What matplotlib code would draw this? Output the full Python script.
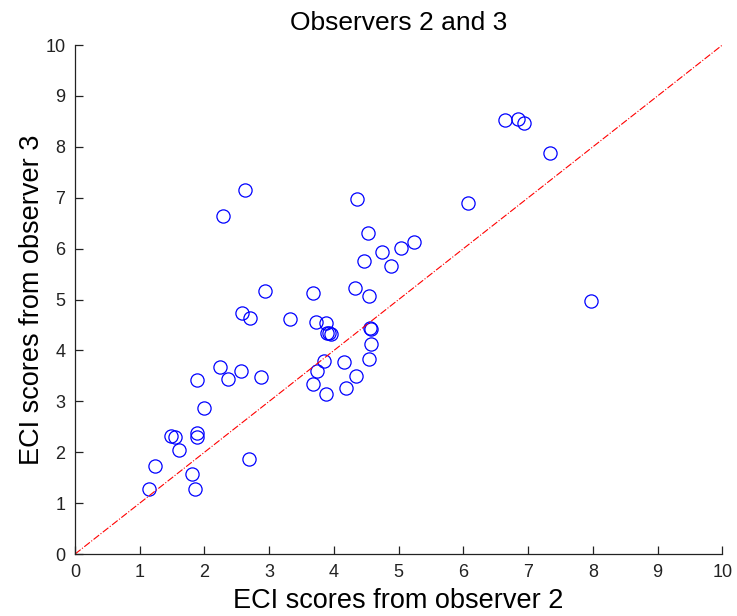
import matplotlib
matplotlib.use("Agg")
import matplotlib.pyplot as plt

# ECI scores given by observer 2 (x) and observer 3 (y) for the same cases
obs2 = [1.14, 1.23, 1.49, 1.55, 1.60, 1.80, 1.85, 1.89, 1.89, 1.89,
        1.99, 2.24, 2.36, 2.29, 2.63, 2.57, 2.58, 2.70, 2.68, 2.88,
        2.94, 3.32, 3.67, 3.72, 3.67, 3.74, 3.85, 3.88, 3.89, 3.92,
        3.96, 3.88, 4.15, 4.18, 4.33, 4.34, 4.36, 4.47, 4.52, 4.54,
        4.56, 4.57, 4.57, 4.54, 4.75, 4.88, 5.03, 5.24, 6.07, 6.64,
        6.85, 6.93, 7.34, 7.97]
obs3 = [1.28, 1.72, 2.31, 2.30, 2.04, 1.57, 1.28, 2.37, 2.29, 3.41,
        2.86, 3.68, 3.44, 6.65, 7.15, 3.59, 4.73, 4.64, 1.87, 3.47,
        5.17, 4.61, 5.13, 4.55, 3.35, 3.60, 3.80, 4.53, 4.34, 4.34,
        4.33, 3.15, 3.77, 3.27, 5.23, 3.50, 6.97, 5.76, 6.31, 5.06,
        4.44, 4.42, 4.12, 3.83, 5.93, 5.66, 6.02, 6.14, 6.89, 8.53,
        8.54, 8.46, 7.88, 4.97]

# identity line endpoints and axis range
identity = [0, 10]
ticks = list(range(0, 11))

plt.rcParams["font.family"] = ["Liberation Sans", "DejaVu Sans"]

fig = plt.figure(figsize=(7.37, 6.16), dpi=100)
ax = fig.add_axes([0.1018, 0.1006, 0.8783, 0.8263])

ax.plot(obs2, obs3, linestyle="none", marker="o", markersize=9.5,
        markerfacecolor="none", markeredgecolor="#0000ff", markeredgewidth=0.9)
ax.plot(identity, identity, color="#ff0000", linestyle="-.", linewidth=0.8)

ax.set_xlim(0, 10)
ax.set_ylim(0, 10)
ax.set_xticks(ticks)
ax.set_yticks(ticks)
ax.tick_params(direction="in", length=6, width=0.9, labelsize=13,
               colors="#222222", pad=7)
for side in ("top", "right"):
    ax.spines[side].set_visible(False)
for side in ("left", "bottom"):
    ax.spines[side].set_linewidth(0.9)
    ax.spines[side].set_color("#222222")

ax.set_title("Observers 2 and 3", fontsize=19, pad=0, y=1.03)
ax.set_xlabel("ECI scores from observer 2", fontsize=19.5, labelpad=5)
ax.set_ylabel("ECI scores from observer 3", fontsize=19.5, labelpad=0)

fig.savefig("out.png", dpi=100)
